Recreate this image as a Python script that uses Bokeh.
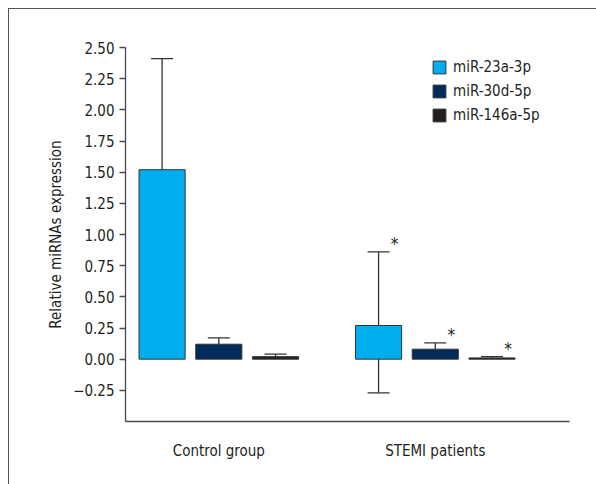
from bokeh.plotting import figure
from bokeh.models import (ColumnDataSource, Whisker, TeeHead, Legend, LegendItem,
                          FixedTicker, Range1d, CustomJSTickFormatter)
from bokeh.core.properties import value
from bokeh.embed import file_html
from bokeh.resources import INLINE

# ---------------- data ----------------
groups = ["Control group", "STEMI patients"]
series = ["miR-23a-3p", "miR-30d-5p", "miR-146a-5p"]
mean_23a = [1.52, 0.27]
mean_30d = [0.12, 0.08]
mean_146a = [0.02, 0.01]
upper_23a = [2.41, 0.86]
upper_30d = [0.17, 0.13]
upper_146a = [0.04, 0.02]
lower_23a = [None, -0.27]          # only visible lower error bar
significant = [False, True]         # * marks (STEMI vs control)
y_ticks = [-0.25, 0.0, 0.25, 0.5, 0.75, 1.0, 1.25, 1.5, 1.75, 2.0, 2.25, 2.5]
colors = ["#00AEEF", "#022B5C", "#231F20"]

means = [mean_23a, mean_30d, mean_146a]
uppers = [upper_23a, upper_30d, upper_146a]
lowers = [lower_23a, [None, None], [None, None]]

FONT = "DejaVu Sans Condensed"
TXT = "#231F20"
AX = "#4a4a4a"

p = figure(width=588, height=476, output_backend="svg", toolbar_location=None,
           x_range=Range1d(0.569, 2.62), y_range=Range1d(-0.5, 2.5),
           min_border_left=116, min_border_right=28, min_border_top=38,
           min_border_bottom=64)
p.margin = (8, 0, 0, 8)
p.styles = {"border-top": "1.5px solid #555555", "border-left": "1.5px solid #555555"}
p.outline_line_color = None
p.xgrid.visible = False
p.ygrid.visible = False
p.background_fill_color = "white"
p.border_fill_color = "white"

step = 0.262
bw = 0.213
legend_items = []
for i, name in enumerate(series):
    xs = [g + 1 + (i - 1) * step for g in range(len(groups))]
    src = ColumnDataSource(dict(x=xs, top=means[i], upper=uppers[i]))
    r = p.vbar(x="x", top="top", bottom=0, width=bw, source=src,
               fill_color=colors[i], line_color="#333333", line_width=1)
    legend_items.append(LegendItem(label=name, renderers=[r]))
    w = Whisker(source=src, base="x", lower="top", upper="upper", dimension="height",
                line_color="#333333", line_width=1.3,
                upper_head=TeeHead(size=22, line_color="#333333", line_width=1.3),
                lower_head=None)
    p.add_layout(w)
    lx = [x for x, l in zip(xs, lowers[i]) if l is not None]
    if lx:
        ls = ColumnDataSource(dict(
            x=lx,
            lower=[l for l in lowers[i] if l is not None],
            top=[t for t, l in zip(means[i], lowers[i]) if l is not None]))
        wl = Whisker(source=ls, base="x", lower="lower", upper="top", dimension="height",
                     line_color="#333333", line_width=1.3,
                     lower_head=TeeHead(size=22, line_color="#333333", line_width=1.3),
                     upper_head=None)
        p.add_layout(wl)
    sx = [x for x, s in zip(xs, significant) if s]
    sy = [u for u, s in zip(uppers[i], significant) if s]
    p.text(x=sx, y=sy, text=["*"] * len(sx), x_offset=16, y_offset=-8,
           text_align="center", text_baseline="middle", text_font=value(FONT),
           text_font_size="17px", text_color=TXT)

legend = Legend(items=legend_items, location=(306, 297), orientation="vertical",
                glyph_width=16, glyph_height=16, label_height=16, spacing=6,
                padding=0, margin=0, label_standoff=6,
                label_text_font=FONT, label_text_font_size="15px",
                label_text_color=TXT, border_line_color=None,
                background_fill_alpha=0)
p.add_layout(legend, "center")

# y axis
p.yaxis.ticker = FixedTicker(ticks=y_ticks)
p.yaxis.formatter = CustomJSTickFormatter(
    code="return (tick < 0 ? '\u2212' : '') + Math.abs(tick).toFixed(2);")
p.yaxis.axis_label = "Relative miRNAs expression"
p.yaxis.axis_label_text_font = FONT
p.yaxis.axis_label_text_font_style = "normal"
p.yaxis.axis_label_text_font_size = "15px"
p.yaxis.axis_label_text_color = TXT
p.yaxis.axis_label_standoff = 5
p.yaxis.major_label_text_font = FONT
p.yaxis.major_label_text_font_size = "15px"
p.yaxis.major_label_text_color = TXT
p.yaxis.major_label_standoff = 5
p.yaxis.major_tick_out = 6
p.yaxis.major_tick_in = 0
p.yaxis.minor_tick_line_color = None
p.yaxis.axis_line_color = AX
p.yaxis.major_tick_line_color = AX
p.yaxis.axis_line_width = 1.3
p.yaxis.major_tick_line_width = 1.3

# x axis
p.xaxis.ticker = FixedTicker(ticks=[1, 2])
p.xaxis.formatter = CustomJSTickFormatter(args=dict(names=groups),
                                          code="return names[Math.round(tick) - 1] || '';")
p.xaxis.major_label_text_font = FONT
p.xaxis.major_label_text_font_size = "15px"
p.xaxis.major_label_text_color = TXT
p.xaxis.major_label_standoff = 20
p.xaxis.major_tick_out = 0
p.xaxis.major_tick_in = 0
p.xaxis.major_tick_line_color = None
p.xaxis.minor_tick_line_color = None
p.xaxis.axis_line_color = AX
p.xaxis.axis_line_width = 1.3

open("out.html", "w").write(file_html(p, INLINE))
